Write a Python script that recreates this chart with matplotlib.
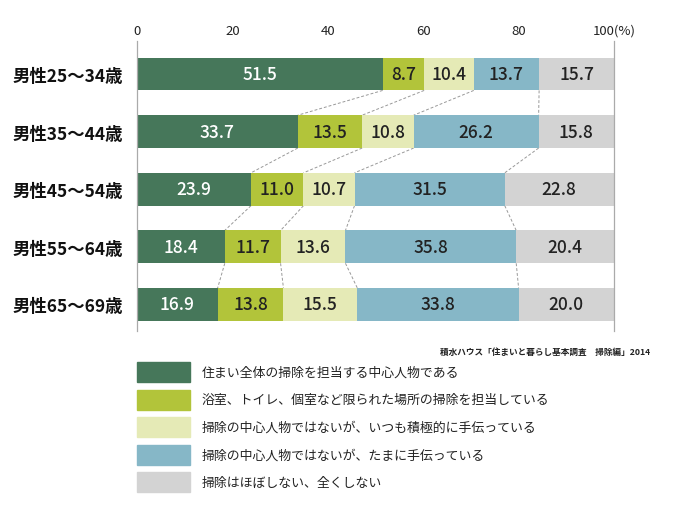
import numpy as np
import matplotlib
matplotlib.use('Agg')
import matplotlib.pyplot as plt
from matplotlib.patches import Rectangle

plt.rcParams['font.family'] = ['Noto Sans CJK JP', 'DejaVu Sans']

groups = ['男性25〜34歳', '男性35〜44歳', '男性45〜54歳', '男性55〜64歳', '男性65〜69歳']
categories = ['住まい全体の掃除を担当する中心人物である',
              '浴室、トイレ、個室など限られた場所の掃除を担当している',
              '掃除の中心人物ではないが、いつも積極的に手伝っている',
              '掃除の中心人物ではないが、たまに手伝っている',
              '掃除はほぼしない、全くしない']
values = np.array([
    [51.5, 8.7, 10.4, 13.7, 15.7],
    [33.7, 13.5, 10.8, 26.2, 15.8],
    [23.9, 11.0, 10.7, 31.5, 22.8],
    [18.4, 11.7, 13.6, 35.8, 20.4],
    [16.9, 13.8, 15.5, 33.8, 20.0],
])
ticks = [0, 20, 40, 60, 80, 100]
tick_labels = ['0', '20', '40', '60', '80', '100(%)']
source = '積水ハウス「住まいと暮らし基本調査　掃除編」2014'

colors = ['#46775a', '#b2c43a', '#e5eab6', '#86b7c7', '#d3d3d3']
text_colors = ['white', '#222222', '#222222', '#222222', '#222222']
num_font = ['Liberation Sans Narrow', 'DejaVu Sans Condensed', 'Noto Sans CJK JP']

W, H = 680, 510
fig = plt.figure(figsize=(W / 100, H / 100), dpi=100)
ax = fig.add_axes([137 / W, 1 - 332 / H, 477 / W, 290 / H])

bar_h = 0.57
y = np.arange(len(groups))
left = np.zeros(len(groups))
for k in range(values.shape[1]):
    ax.barh(y, values[:, k], left=left, height=bar_h, color=colors[k], zorder=2)
    for i in range(len(groups)):
        ax.text(left[i] + values[i, k] / 2, y[i], f'{values[i, k]:.1f}',
                ha='center', va='center', fontsize=12.5, color=text_colors[k],
                family=num_font, fontweight='medium', zorder=3)
    left = left + values[:, k]

# dashed connectors between boundaries of neighbouring bars
cum = np.cumsum(values, axis=1)
for i in range(len(groups) - 1):
    for k in range(values.shape[1] - 1):
        ax.plot([cum[i, k], cum[i + 1, k]], [y[i] + bar_h / 2, y[i + 1] - bar_h / 2],
                color='#999999', lw=0.7, ls=(0, (3, 2)), zorder=1)

ax.set_xlim(0, 100)
ax.set_ylim(4.46, -0.573)
ax.set_yticks(y)
ax.set_yticklabels(groups, fontsize=12.5, fontweight='bold', color='#111111')
ax.xaxis.tick_top()
ax.set_xticks(ticks)
ax.set_xticklabels(tick_labels, fontsize=9.5, family=num_font, color='#222222')
ax.tick_params(axis='both', length=0)
ax.tick_params(axis='x', pad=3)
ax.tick_params(axis='y', pad=10)
for s in ['top', 'bottom']:
    ax.spines[s].set_visible(False)
for s in ['left', 'right']:
    ax.spines[s].set_color('#aaaaaa')
    ax.spines[s].set_linewidth(0.9)

# source note
fig.text(650 / W, 1 - 352 / H, source, ha='right', va='center', fontsize=6.2,
         color='#222222', fontweight='bold')

# legend
for k, cat in enumerate(categories):
    yc = 373 + k * 27.6
    fig.patches.append(Rectangle((137 / W, 1 - (yc + 10) / H), 53 / W, 20 / H,
                                 transform=fig.transFigure, color=colors[k]))
    fig.text(202 / W, 1 - yc / H, cat, ha='left', va='center', fontsize=9.3,
             color='#222222')

fig.savefig('out.png', dpi=100)
